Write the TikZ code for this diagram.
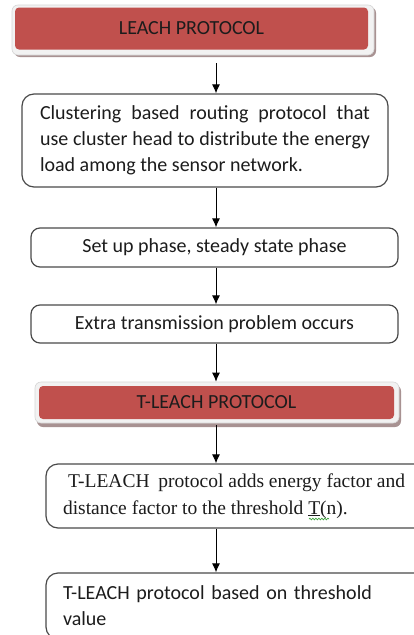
\documentclass[tikz,border=0pt]{standalone}
\usepackage{fontspec}
\setmainfont{Carlito}
\newfontfamily\timesfont{Liberation Serif}
\usetikzlibrary{arrows.meta,decorations.pathmorphing}
\definecolor{leachred}{HTML}{C0504D}
\definecolor{framegray}{HTML}{F2F2F2}
\definecolor{frameedge}{HTML}{D6D6D6}
\definecolor{shadowc}{HTML}{A89292}
\definecolor{boxedge}{HTML}{4A4A4A}
\definecolor{txt}{HTML}{1C1C1C}
\definecolor{spell}{HTML}{3CA03C}
\tikzset{
  frame/.style={rectangle, rounded corners=6pt, fill=framegray, draw=frameedge, line width=0.6pt, inner sep=0pt},
  redbox/.style={rectangle, rounded corners=4pt, fill=leachred, inner sep=0pt, text=txt, font=\fontsize{20}{24}\selectfont},
  stepbox/.style={rectangle, rounded corners=12pt, draw=boxedge, line width=1.2pt, fill=white, inner sep=0pt, text=txt, font=\fontsize{20}{26}\selectfont},
  arr/.style={-{Latex[length=9pt,width=8pt]}, line width=1pt, black}
}
\begin{document}
\begin{tikzpicture}[x=1pt,y=-1pt]
\useasboundingbox (0,0) rectangle (414,635);
\fill[white] (0,0) rectangle (414,635);
\coordinate (ax) at (216,0);
% LEACH PROTOCOL
\fill[shadowc, rounded corners=6pt] (14,7) rectangle (376,57);
\node[frame, minimum width=362pt, minimum height=50pt] (b1f) at (193,30) {};
\node[redbox, minimum width=353pt, minimum height=42pt] (b1) at (191.5,28.5) {LEACH PROTOCOL};
% step 2
\node[stepbox, minimum width=366pt, minimum height=93pt] (b2) at (205,140.5)
  {\raisebox{-3pt}{\parbox{330pt}{\fontsize{20}{26}\selectfont Clustering based routing protocol that\linebreak use cluster head to distribute the energy\linebreak load among the sensor network.}}};
% step 3
\node[stepbox, minimum width=367pt, minimum height=39pt, rounded corners=9pt] (b3) at (214.5,247.5) {\raisebox{-1.5pt}{Set up phase, steady state phase}};
% step 4
\node[stepbox, minimum width=367pt, minimum height=38pt, rounded corners=9pt] (b4) at (214.5,324) {Extra transmission problem occurs};
% T-LEACH PROTOCOL
\fill[shadowc, rounded corners=6pt] (37,385) rectangle (401,427);
\node[frame, minimum width=364pt, minimum height=41pt] (b5f) at (217,402.5) {};
\node[redbox, minimum width=355pt, minimum height=33pt] (b5) at (216.5,402.5) {T-LEACH PROTOCOL};
% step 6
\node[stepbox, minimum width=384pt, minimum height=64pt] (b6) at (238,496)
  {\parbox{360pt}{\timesfont\fontsize{19.5}{27}\selectfont\raggedright
   \hspace*{10pt}T-LEACH\hspace{4pt} protocol adds energy factor and\\
   \hspace*{5pt}distance factor to the threshold \underline{T}(n).}};
\draw[spell, line width=0.7pt, decorate, decoration={snake, amplitude=0.8pt, segment length=3pt}] (309,519) -- (329,519);
% step 7
\node[stepbox, minimum width=384pt, minimum height=66pt, text width=350pt, align=left] (b7) at (238,606)
  {T-LEACH protocol based on threshold\\value};
% arrows
\draw[arr, shorten <=8pt] (b1f.south -| ax) -- (b2.north -| ax);
\draw[arr] (b2.south -| ax) -- (b3.north -| ax);
\draw[arr] (b3.south -| ax) -- (b4.north -| ax);
\draw[arr] (b4.south -| ax) -- (b5f.north -| ax);
\draw[arr, shorten <=2pt] (b5f.south -| ax) -- (b6.north -| ax);
\draw[arr] (b6.south -| ax) -- (b7.north -| ax);
\end{tikzpicture}
\end{document}
